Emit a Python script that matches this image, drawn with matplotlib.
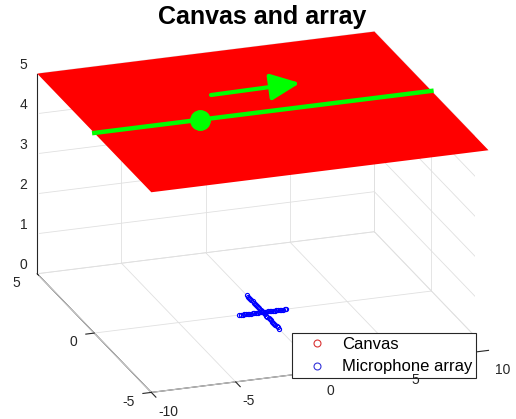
import numpy as np
import matplotlib.pyplot as plt
from matplotlib.lines import Line2D
from mpl_toolkits.mplot3d import proj3d
from mpl_toolkits.mplot3d.art3d import Poly3DCollection

plt.rcParams['font.family'] = ['Liberation Sans', 'DejaVu Sans']
plt.rcParams['axes.unicode_minus'] = False

# room extents
x_lim = [-10, 10]
y_lim = [-5, 5]
z_lim = [0, 5]
x_ticks = [-10, -5, 0, 5, 10]
y_ticks = [-5, 0, 5]
z_ticks = [0, 1, 2, 3, 4, 5]

# canvas plane and source track
canvas_z = 5
track_x = [-10, 10]
track_y = [0, 0]
source_pos = [-3.75, 0, 5]

# cross shaped microphone array (two arms through the origin)
arm_half = 1.4
arm_n = 29

GREEN = (0, 1, 0)
AX_COL = (0.15, 0.15, 0.15)
GRID_COL = (0.88, 0.88, 0.88)

fig = plt.figure(figsize=(5.16, 4.19), dpi=100)
ax = fig.add_axes([-0.022, -0.040, 1.04, 1.04], projection='3d', computed_zorder=False)
ax.set_proj_type('ortho')
ax.view_init(elev=21.1, azim=-109.1)
ax.set_box_aspect((1.023, 1, 0.615), zoom=1.21)
ax.set_xlim(x_lim)
ax.set_ylim(y_lim)
ax.set_zlim(z_lim)
ax.set_xticks([])
ax.set_yticks([])
ax.set_zticks([])
for axis in (ax.xaxis, ax.yaxis, ax.zaxis):
    axis.set_pane_color((1, 1, 1, 0))
    axis.pane.set_edgecolor((1, 1, 1, 0))
    axis.line.set_color(AX_COL)
    axis.line.set_linewidth(0.8)

x0, x1 = x_lim
y0, y1 = y_lim
z0, z1 = z_lim
grid = dict(color=GRID_COL, lw=0.6, zorder=0.5)
tick = dict(color=AX_COL, lw=0.8, zorder=0.6)

# grid on the floor, back wall (y = y1) and right wall (x = x1)
for xt in x_ticks:
    ax.plot([xt, xt], [y0, y1], [z0, z0], **grid)
    ax.plot([xt, xt], [y1, y1], [z0, z1], **grid)
for yt in y_ticks:
    ax.plot([x0, x1], [yt, yt], [z0, z0], **grid)
    ax.plot([x1, x1], [yt, yt], [z0, z1], **grid)
for zt in z_ticks:
    ax.plot([x0, x1], [y1, y1], [zt, zt], **grid)
    ax.plot([x1, x1], [y0, y1], [zt, zt], **grid)

# tick marks; label anchors kept as 3D points for now
tick_labels = []
for xt in x_ticks:
    ax.plot([xt, xt], [y0, y0 - 0.4], [z0, z0], **tick)
    tick_labels.append((xt + 0.40, y0, z0 - 0.50, str(xt), 'left'))
for yt in y_ticks:
    ax.plot([x0, x0 - 0.5], [yt, yt], [z0, z0], **tick)
    tick_labels.append((x0 - 1.0, yt, z0 - 0.18, str(yt), 'right'))
for zt in z_ticks:
    ax.plot([x0, x0], [y1, y1 + 0.45], [zt, zt], **tick)
    tick_labels.append((x0 - 0.585, y1, zt + 0.25, str(zt), 'right'))

# canvas
corners = [[(x0, y0, canvas_z), (x1, y0, canvas_z), (x1, y1, canvas_z), (x0, y1, canvas_z)]]
canvas = Poly3DCollection(corners, facecolor=(1, 0, 0), edgecolor='none', zorder=2)
canvas.set_clip_on(False)
ax.add_collection3d(canvas)
ax.plot(track_x, track_y, [canvas_z, canvas_z], color=GREEN, lw=3.2, zorder=3,
        clip_on=False)
ax.plot([source_pos[0]], [source_pos[1]], [source_pos[2]], 'o', color=GREEN,
        ms=14, zorder=4, clip_on=False)

# microphone array
arm = np.linspace(-arm_half, arm_half, arm_n)
zeros = np.zeros_like(arm)
mic_x = np.concatenate([arm, zeros])
mic_y = np.concatenate([zeros, arm])
ax.plot(mic_x, mic_y, np.zeros_like(mic_x), 'o', mfc='none', mec=(0, 0, 1),
        ms=3, mew=0.8, zorder=1)

# direction of travel
ax.annotate('', xy=(300 / 516, 1 - 83 / 419), xytext=(211 / 516, 1 - 95 / 419),
            xycoords='figure fraction', textcoords='figure fraction',
            arrowprops=dict(arrowstyle='-|>,head_length=1.0,head_width=0.45',
                            mutation_scale=18, color=GREEN, lw=3,
                            shrinkA=0, shrinkB=0))

fig.suptitle('Canvas and array', x=262 / 516, y=1 - 5 / 419, va='top',
             fontsize=18, fontweight='bold')

handles = [
    Line2D([], [], ls='none', marker='o', mfc='none', mec=(0.85, 0.2, 0.2), ms=5, mew=0.8, label='Canvas'),
    Line2D([], [], ls='none', marker='o', mfc='none', mec=(0.2, 0.2, 0.85), ms=5, mew=0.8, label='Microphone array'),
]
leg = ax.legend(handles=handles, loc='lower right', bbox_to_anchor=(476 / 516, 1 - 378 / 419),
                bbox_transform=fig.transFigure, borderaxespad=0, fancybox=False,
                framealpha=1, edgecolor=AX_COL, fontsize=12, handletextpad=0.27,
                handlelength=2.5, borderpad=0.22, labelspacing=0.45)
leg.get_frame().set_linewidth(0.8)

# project the label anchors once the view matrix exists, then place flat text
fig.canvas.draw()
to_fig = fig.transFigure.inverted()
for lx, ly, lz, s, ha in tick_labels:
    px, py, _ = proj3d.proj_transform(lx, ly, lz, ax.M)
    fx, fy = to_fig.transform(ax.transData.transform((px, py)))
    fig.text(fx, fy, s, ha=ha, va='center', fontsize=10, color=AX_COL)

fig.savefig('out.png', dpi=100)
